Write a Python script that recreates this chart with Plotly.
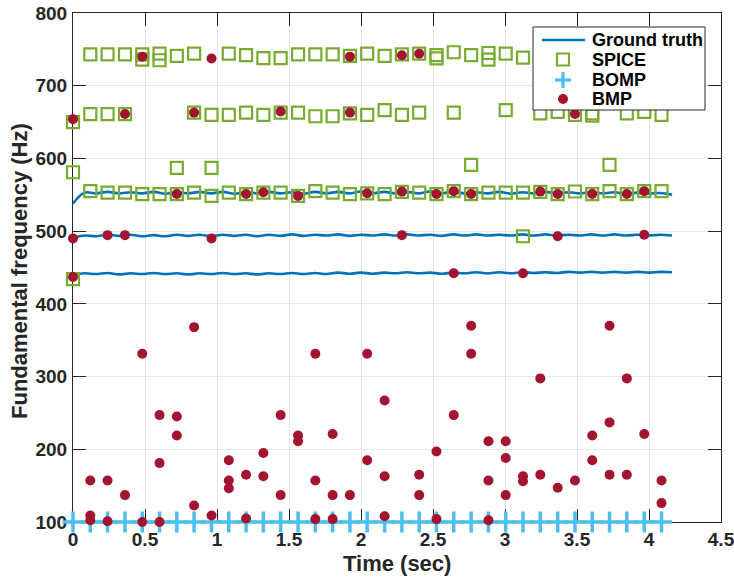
import plotly.graph_objects as go

# ---------------- data ----------------
frame_times = [0.000, 0.120, 0.240, 0.361, 0.481, 0.601, 0.721, 0.841, 0.962, 1.082,
               1.202, 1.322, 1.442, 1.563, 1.683, 1.803, 1.923, 2.043, 2.164, 2.284,
               2.404, 2.524, 2.644, 2.765, 2.885, 3.005, 3.125, 3.245, 3.366, 3.486,
               3.606, 3.726, 3.846, 3.967, 4.087]

gt_step = 0.08
gt_low = [440, 442, 441, 442.5, 440.5, 442, 441, 442.5, 441, 442, 440.5, 442, 441, 442.5,
          441, 442, 440.5, 442, 441, 442.5, 441, 442.5, 441, 443, 441.5, 443, 441.5, 443,
          442, 443.5, 442, 443, 441.5, 443, 442, 443.5, 442, 443.5, 442, 443.5, 442.5,
          443.5, 442.5, 444, 443, 444, 443, 444, 443, 444, 443, 444, 443.5]
gt_mid = [491, 494, 493, 495, 493.5, 495, 493, 494.5, 493, 495, 493.5, 495, 493, 495,
          493.5, 495, 493, 495, 493.5, 495.5, 493.5, 495, 494, 495.5, 493.5, 495, 494,
          495.5, 494, 495.5, 494, 495, 493.5, 495.5, 494, 495.5, 494, 495, 494, 495.5,
          494, 495.5, 494, 495, 494, 495.5, 494, 495.5, 494, 495, 494, 495, 494]
gt_high = [538, 553, 552, 554, 552, 553.5, 552, 554, 551.5, 553.5, 552, 554, 552, 554,
           551.5, 553.5, 552, 554, 552, 553.5, 551.5, 554, 552, 554, 552, 554.5, 552, 554,
           552, 554, 552, 554.5, 552, 554, 552, 553.5, 552, 554, 551.5, 553.5, 552, 554,
           552, 553.5, 552, 553.5, 552, 553.5, 551.5, 553, 551.5, 552.5, 550]

spice_frame = [0, 0, 0, 1, 1, 1, 2, 2, 2, 3, 3, 3, 4, 4, 4, 5, 5, 5, 6, 6, 6, 7, 7, 7,
               8, 8, 8, 9, 9, 9, 10, 10, 10, 11, 11, 11, 12, 12, 12, 13, 13, 13,
               14, 14, 14, 15, 15, 15, 16, 16, 16, 17, 17, 17, 18, 18, 18, 19, 19, 19,
               20, 20, 20, 21, 21, 21, 22, 22, 22, 23, 23, 23, 24, 24, 24, 25, 25, 25,
               26, 26, 26, 27, 27, 28, 28, 29, 29, 30, 30, 30, 31, 31, 32, 32, 33, 33,
               34, 34]
spice_freq = [650, 581, 434, 743, 661, 555, 743, 661, 553, 743, 661, 553, 743, 736, 551,
              744, 735, 551, 741, 587, 551, 744, 663, 553, 660, 587, 548.5, 744, 660, 553,
              742, 663, 551, 738, 660, 553, 738, 663, 553, 743, 663, 548.5,
              743, 658, 555, 743, 658, 553, 741, 662, 551, 744, 660, 552, 741, 666.5, 551,
              743, 660, 554, 744, 663, 553, 742, 737.5, 551, 746, 663, 555, 742, 591, 551,
              745, 736, 553, 744, 666.5, 553, 738.5, 553, 493, 662, 554, 664, 551,
              660, 554.5, 662, 659, 551, 591, 555, 662, 551, 664, 555, 660, 555]

bomp_frame = list(range(35))
bomp_freq = [100] * 35

bmp_frame = [0, 0, 0, 1, 1, 1, 2, 2, 2, 3, 3, 3, 4, 4, 4, 5, 5, 5, 6, 6, 6, 7, 7, 7,
             8, 8, 8, 9, 9, 9, 10, 10, 10, 11, 11, 11, 12, 12, 12, 13, 13, 13,
             14, 14, 14, 15, 15, 15, 16, 16, 16, 17, 17, 17, 18, 18, 18, 19, 19, 19,
             20, 20, 20, 21, 21, 21, 22, 22, 22, 23, 23, 23, 24, 24, 24, 25, 25, 25,
             26, 26, 26, 27, 27, 27, 28, 28, 28, 29, 29, 30, 30, 30, 31, 31, 31,
             32, 32, 32, 33, 33, 33, 34, 34]
bmp_freq = [654, 490, 437, 157, 109, 102.5, 494.5, 157, 101, 661, 494.5, 137,
            740, 331.5, 100, 247, 181, 100, 551, 245, 219, 663, 368, 122.7,
            737.5, 490, 109, 185, 157, 146.5, 551, 165, 104.8, 553.5, 195, 163,
            664.5, 247, 137, 548.5, 219, 211, 331.5, 157, 104, 221, 137, 104,
            740, 663, 137, 552, 331.5, 185, 267, 163, 108, 742, 554.4, 494.5,
            744, 165, 137, 551, 197, 104, 555, 442, 247, 551, 370, 331.5,
            211, 157, 102.5, 211, 188, 137, 442, 163, 156, 554.4, 297.5, 165,
            551, 493, 147, 661, 157, 551, 219, 185, 370, 237, 165,
            551, 297.5, 165, 555, 495, 221, 157, 126]

legend_labels = ["Ground truth", "SPICE", "BOMP", "BMP"]

# ---------------- figure ----------------
gt_time = [round(i * gt_step, 2) for i in range(len(gt_low))]
spice_t = [frame_times[k] for k in spice_frame]
bomp_t = [frame_times[k] for k in bomp_frame]
bmp_t = [frame_times[k] for k in bmp_frame]

BLUE = "#0072BD"
GREEN = "#77AC30"
CYAN = "#4DBEEE"
RED = "#A2142F"
DARK = "#262626"
FONT = "Liberation Sans, Arial, Helvetica, sans-serif"

fig = go.Figure()
for i, g in enumerate([gt_low, gt_mid, gt_high]):
    fig.add_trace(go.Scatter(
        x=gt_time, y=g, mode="lines", name=legend_labels[0],
        line=dict(color=BLUE, width=2.6, shape="spline", smoothing=1.0),
        showlegend=False, cliponaxis=False))

fig.add_trace(go.Scatter(
    x=spice_t, y=spice_freq, mode="markers", name=legend_labels[1], showlegend=False,
    marker=dict(symbol="square-open", size=12, color=GREEN, line=dict(width=2.2, color=GREEN)),
    cliponaxis=False))
fig.add_trace(go.Scatter(
    x=bomp_t, y=bomp_freq, mode="markers", name=legend_labels[2], showlegend=False,
    marker=dict(symbol="cross-thin-open", size=15, color=CYAN, line=dict(width=3.5, color=CYAN)),
    cliponaxis=False))
fig.add_trace(go.Scatter(
    x=bmp_t, y=bmp_freq, mode="markers", name=legend_labels[3], showlegend=False,
    marker=dict(symbol="circle", size=10, color=RED, line=dict(width=0)),
    cliponaxis=False))

axis_common = dict(
    showline=True, linecolor=DARK, linewidth=1, mirror="ticks",
    ticks="inside", ticklen=13, tickwidth=1, tickcolor=DARK,
    showgrid=True, gridcolor="#E6E6E6", gridwidth=1, zeroline=False,
    tickfont=dict(family=FONT, size=19, color=DARK, weight="bold"),
    layer="below traces", automargin=False, ticklabeloverflow="allow",
)

W, H = 734, 579
ML, MR, MT, MB = 73, 13, 13, 57
PW, PH = W - ML - MR, H - MT - MB

def px(fx):
    return (fx - ML) / PW

def py(fy):
    return (H - MB - fy) / PH

fig.update_layout(
    width=W, height=H,
    margin=dict(l=ML, r=MR, t=MT, b=MB),
    paper_bgcolor="white", plot_bgcolor="white",
    font=dict(family=FONT, color=DARK),
    xaxis=dict(range=[0, 4.5], dtick=0.5, tick0=0, ticklabelstandoff=0, **axis_common),
    yaxis=dict(range=[100, 800], dtick=100, tick0=100, ticklabelstandoff=1, **axis_common),
    showlegend=False,
)

# axis titles
fig.add_annotation(text="Time (sec)", xref="paper", yref="paper",
                   x=0.5, y=py(563), xanchor="center", yanchor="middle", showarrow=False,
                   font=dict(family=FONT, size=22, color=DARK, weight="bold"))
fig.add_annotation(text="Fundamental frequency (Hz)", xref="paper", yref="paper",
                   x=px(19), y=py(271), xanchor="center", yanchor="middle", textangle=-90,
                   showarrow=False,
                   font=dict(family=FONT, size=22, color=DARK, weight="bold"))

# legend box (pixel coords converted to paper)
lx0, lx1, ly0, ly1 = 533, 705, 27, 110
fig.add_shape(type="rect", xref="paper", yref="paper", layer="above",
              x0=px(lx0), x1=px(lx1), y0=py(ly1), y1=py(ly0),
              fillcolor="white", line=dict(color=DARK, width=1))
row_y = [40, 59.5, 80, 99]
sym_x = 563
# Ground truth line
fig.add_shape(type="line", xref="paper", yref="paper", layer="above",
              x0=px(542), x1=px(585), y0=py(row_y[0]), y1=py(row_y[0]),
              line=dict(color=BLUE, width=2.5))
# SPICE square
fig.add_shape(type="rect", xref="paper", yref="paper", layer="above",
              xsizemode="pixel", ysizemode="pixel",
              xanchor=px(sym_x), yanchor=py(row_y[1]),
              x0=-6, x1=6, y0=-6, y1=6,
              fillcolor="rgba(0,0,0,0)", line=dict(color=GREEN, width=2.2))
# BOMP cross
fig.add_shape(type="line", xref="paper", yref="paper", layer="above",
              xsizemode="pixel", ysizemode="pixel",
              xanchor=px(sym_x), yanchor=py(row_y[2]),
              x0=-8, x1=8, y0=0, y1=0, line=dict(color=CYAN, width=3.2))
fig.add_shape(type="line", xref="paper", yref="paper", layer="above",
              xsizemode="pixel", ysizemode="pixel",
              xanchor=px(sym_x), yanchor=py(row_y[2]),
              x0=0, x1=0, y0=-8, y1=8, line=dict(color=CYAN, width=3.2))
# BMP dot
fig.add_shape(type="circle", xref="paper", yref="paper", layer="above",
              xsizemode="pixel", ysizemode="pixel",
              xanchor=px(sym_x), yanchor=py(row_y[3]),
              x0=-5, x1=5, y0=-5, y1=5,
              fillcolor=RED, line=dict(color=RED, width=0))
for lab, ry in zip(legend_labels, row_y):
    fig.add_annotation(text=lab, xref="paper", yref="paper", x=px(590), y=py(ry),
                       xanchor="left", yanchor="middle", showarrow=False,
                       font=dict(family=FONT, size=18, color="black", weight="bold"))

fig.write_html("out.html",
               config={"displayModeBar": False, "staticPlot": True},
               post_script="document.body.style.margin='0';document.body.style.overflow='hidden';")
